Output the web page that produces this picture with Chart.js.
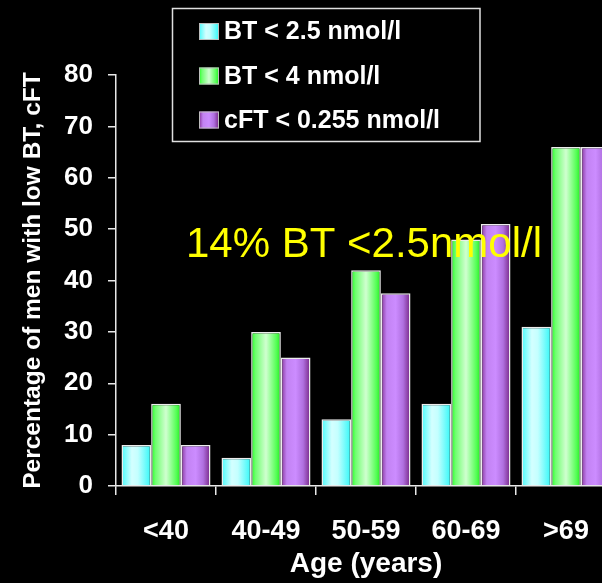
<!DOCTYPE html>
<html lang="en">
<head>
    <meta charset="UTF-8">
    <title>Low BT / cFT by age</title>
    <script src="https://cdn.jsdelivr.net/npm/chart.js"></script>
    <style>
        body {
            margin: 0;
            padding: 0;
            background-color: #000;
            overflow: hidden;
        }
        canvas {
            display: block;
        }
    </style>
</head>
<body>
    <canvas id="lowBtChart" width="620" height="583"></canvas>

    <script>
        // Values (percent of men)
        const ageGroups = ['<40', '40-49', '50-59', '60-69', '>69'];
        const bt25 = [8, 5.5, 13, 16, 31];
        const bt4 = [16, 30, 42, 48, 66];
        const cft = [8, 25, 37.5, 51, 66];
        const seriesLabels = ['BT < 2.5 nmol/l', 'BT < 4 nmol/l', 'cFT < 0.255 nmol/l'];
        const yTicks = [0, 10, 20, 30, 40, 50, 60, 70, 80];

        const FONT = "'Liberation Sans', Arial, sans-serif";
        const CAT_PCT = 0.89;

        // horizontal gradient stops for each series
        const cyanStops = [[0, '#48fafa'], [0.35, '#d4ffff'], [0.55, '#c4ffff'], [1, '#2ef8f8']];
        const greenStops = [[0, '#22ff22'], [0.15, '#70ff70'], [0.5, '#d0ffd0'], [0.85, '#55ff55'], [1, '#20e820']];
        const purpleStops = [[0, '#843095'], [0.2, '#c282f2'], [0.5, '#cc8cff'], [0.75, '#b070e0'], [1, '#762484']];

        function makeGradient(c2d, x0, x1, stops) {
            const g = c2d.createLinearGradient(x0, 0, x1, 0);
            stops.forEach(s => g.addColorStop(s[0], s[1]));
            return g;
        }

        // one gradient per bar, placed from the x scale
        function barFill(stops) {
            return function (ctx) {
                const chart = ctx.chart;
                const xs = chart.scales.x;
                if (ctx.type !== 'data' || !xs || !xs.ticks || !xs.ticks.length) return stops[2][1];
                const catW = xs.width / ageGroups.length;
                const w = catW * CAT_PCT / 3;
                const cx = xs.getPixelForValue(ctx.dataIndex) + (ctx.datasetIndex - 1) * w;
                if (!Number.isFinite(cx) || !Number.isFinite(w) || w <= 0) return stops[2][1];
                return makeGradient(chart.ctx, cx - w / 2, cx + w / 2, stops);
            };
        }

        const allStops = [cyanStops, greenStops, purpleStops];

        // boxed legend + yellow note, drawn over the bars
        const overlayPlugin = {
            id: 'overlay',
            afterDatasetsDraw(chart) {
                const c = chart.ctx;
                c.save();

                // yellow note
                c.font = '42px ' + FONT;
                c.fillStyle = '#ffff00';
                c.textAlign = 'left';
                c.textBaseline = 'alphabetic';
                c.fillText('14% BT <2.5nmol/l', 186, 257);

                // legend box
                c.strokeStyle = '#e0e0e0';
                c.lineWidth = 1.5;
                c.strokeRect(172.5, 8.5, 307.5, 133);

                const rows = [31.5, 76, 120];
                c.font = 'bold 25px ' + FONT;
                c.textBaseline = 'middle';
                chart.data.datasets.forEach((ds, i) => {
                    const y = rows[i];
                    c.fillStyle = makeGradient(c, 199, 219, allStops[i]);
                    c.fillRect(199, y - 8.5, 20, 17);
                    c.strokeStyle = '#bdbdbd';
                    c.lineWidth = 1;
                    c.strokeRect(199.5, y - 8, 19, 16);
                    c.fillStyle = '#ffffff';
                    c.fillText(ds.label, 224, y + 1);
                });
                c.restore();
            }
        };

        new Chart(document.getElementById('lowBtChart').getContext('2d'), {
            type: 'bar',
            data: {
                labels: ageGroups,
                datasets: [
                    { label: seriesLabels[0], data: bt25, backgroundColor: barFill(cyanStops) },
                    { label: seriesLabels[1], data: bt4, backgroundColor: barFill(greenStops) },
                    { label: seriesLabels[2], data: cft, backgroundColor: barFill(purpleStops) }
                ].map(d => Object.assign(d, {
                    borderColor: '#ececec',
                    borderWidth: 1.5,
                    categoryPercentage: CAT_PCT,
                    barPercentage: 1.0
                }))
            },
            options: {
                responsive: false,
                animation: false,
                layout: {
                    padding: { top: 75, right: 4, left: 0, bottom: 0 }
                },
                plugins: {
                    legend: { display: false },
                    tooltip: { enabled: false }
                },
                scales: {
                    x: {
                        grid: {
                            display: true,
                            drawOnChartArea: false,
                            color: '#e8e8e8',
                            lineWidth: 1.5,
                            tickLength: 9,
                            offset: true
                        },
                        border: { display: true, color: '#e8e8e8', width: 1.5 },
                        ticks: {
                            color: '#ffffff',
                            font: { family: FONT, size: 27, weight: 'bold' },
                            padding: 20,
                            maxRotation: 0,
                            autoSkip: false
                        },
                        title: {
                            display: true,
                            text: 'Age (years)',
                            color: '#ffffff',
                            font: { family: FONT, size: 28, weight: 'bold' },
                            padding: { top: 0, bottom: 2 }
                        },
                        afterFit(scale) { scale.height = 97; }
                    },
                    y: {
                        min: 0,
                        max: 80,
                        afterBuildTicks(scale) {
                            scale.ticks = yTicks.map(v => ({ value: v }));
                        },
                        grid: {
                            display: true,
                            drawOnChartArea: false,
                            color: '#e8e8e8',
                            lineWidth: 1.5,
                            tickLength: 8
                        },
                        border: { display: true, color: '#e8e8e8', width: 1.5 },
                        ticks: {
                            color: '#ffffff',
                            font: { family: FONT, size: 26, weight: 'bold' },
                            padding: 15
                        },
                        title: {
                            display: true,
                            text: 'Percentage of men with low BT, cFT',
                            color: '#ffffff',
                            font: { family: FONT, size: 24.5, weight: 'bold' },
                            padding: { top: 19, bottom: 0 }
                        },
                        afterFit(scale) { scale.width = 116; }
                    }
                }
            },
            plugins: [overlayPlugin]
        });
    </script>
</body>
</html>
